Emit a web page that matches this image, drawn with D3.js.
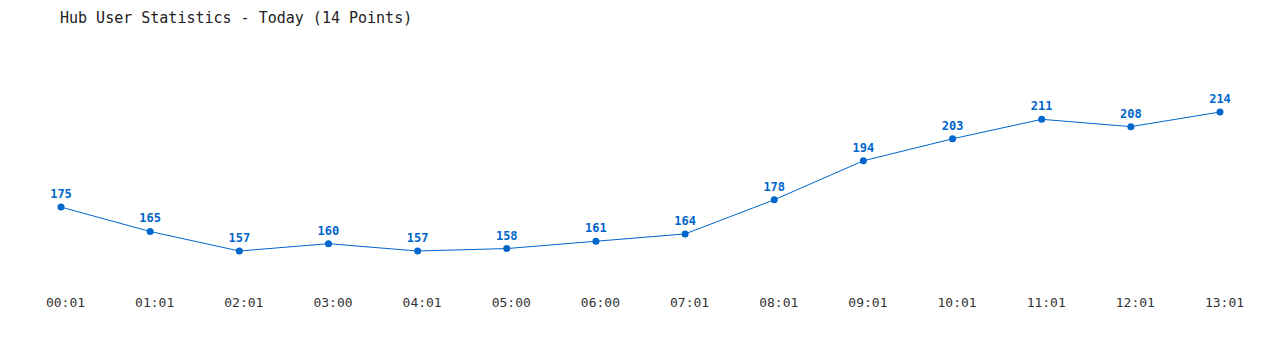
<!DOCTYPE html>
<html>
<head>
<meta charset="utf-8">
<script src="https://cdn.jsdelivr.net/npm/d3@7"></script>
<style>
  body { margin: 0; background: #fff; }
  text { font-family: "DejaVu Sans Mono", "Liberation Mono", monospace; }
</style>
</head>
<body>
<svg id="chart"></svg>
<script>
const width = 1280;
const height = 350;
const lineColor = "#0066cc";

// data
const times = ["00:01", "01:01", "02:01", "03:00", "04:01", "05:00", "06:00",
  "07:01", "08:01", "09:01", "10:01", "11:01", "12:01", "13:01"];
const users = [175, 165, 157, 160, 157, 158, 161, 164, 178, 194, 203, 211, 208, 214];

var svg = d3.select("#chart")
  .attr("width", width)
  .attr("height", height);

svg.append("text")
  .attr("x", 60)
  .attr("y", 23)
  .style("font-size", "15px")
  .style("fill", "#222")
  .text("Hub User Statistics - Today (14 Points)");

var x = d3.scalePoint()
  .domain(times)
  .range([61, 1220]);

var y = d3.scaleLinear()
  .domain([157, 214])
  .range([251, 112]);

// tick labels sit a few px right of the points in the original
var xAxis = d3.axisBottom(x).tickSize(0).tickPadding(0);
var axisG = svg.append("g")
  .attr("transform", "translate(4,300)")
  .call(xAxis);
axisG.select(".domain").remove();
axisG.selectAll("text")
  .attr("dy", "0.5em")
  .style("font-family", "'DejaVu Sans Mono', monospace")
  .style("font-size", "13px")
  .style("fill", "#333");

var pts = times.map((t, i) => ({ t: t, v: users[i] }));

var line = d3.line()
  .x(d => x(d.t))
  .y(d => y(d.v));

svg.append("path")
  .datum(pts)
  .attr("d", line)
  .attr("fill", "none")
  .attr("stroke", lineColor)
  .attr("stroke-width", 1);

svg.selectAll("circle.pt")
  .data(pts)
  .enter().append("circle")
  .attr("class", "pt")
  .attr("cx", d => x(d.t))
  .attr("cy", d => y(d.v))
  .attr("r", 3.5)
  .attr("fill", lineColor);

svg.selectAll("text.lbl")
  .data(pts)
  .enter().append("text")
  .attr("class", "lbl")
  .attr("x", d => x(d.t))
  .attr("y", d => y(d.v) - 9)
  .attr("text-anchor", "middle")
  .style("font-size", "12px")
  .style("font-weight", "bold")
  .style("fill", lineColor)
  .text(d => d.v);
</script>
</body>
</html>
